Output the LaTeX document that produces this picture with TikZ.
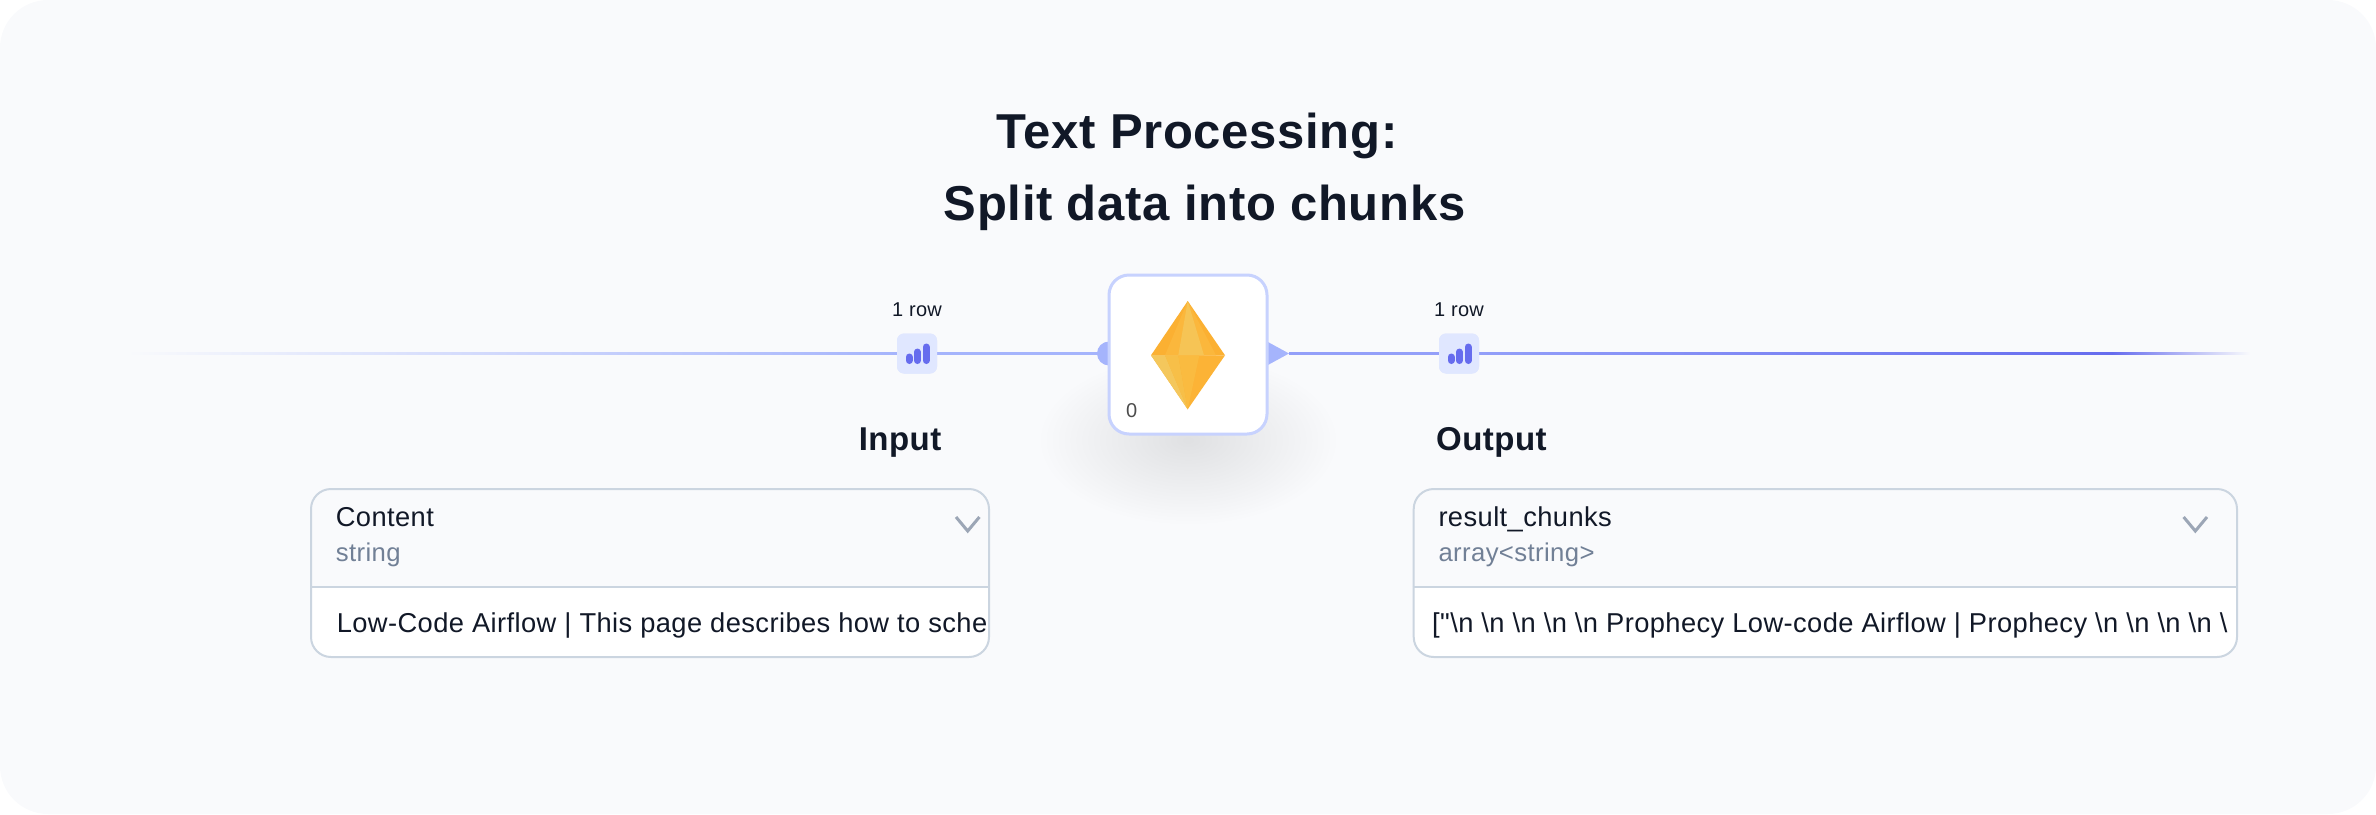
\documentclass[tikz,border=0pt]{standalone}
\usepackage{fontspec}
\setmainfont{Liberation Sans}
\newfontfamily\semifont[LetterSpace=1.4]{Liberation Sans}
\newfontfamily\bodyfont[LetterSpace=1.5]{Liberation Sans}
\usetikzlibrary{calc,fadings}
\definecolor{pagebg}{HTML}{F9FAFC}
\definecolor{inkdark}{HTML}{111827}
\definecolor{inkmute}{HTML}{718096}
\definecolor{wirelight}{HTML}{A5B4FC}
\definecolor{wiremid}{HTML}{939FF9}
\definecolor{wiredark}{HTML}{666CEE}
\definecolor{chipbg}{HTML}{E0E7FF}
\definecolor{gemline}{HTML}{C7D2FE}
\definecolor{fieldline}{HTML}{CBD5E0}
\newcommand{\bsn}{\textbackslash n}
\tikzfading[name=softglow,inner color=transparent!90,outer color=transparent!100]
\tikzset{
  tinytext/.style={inner sep=0pt,text=inkdark,font=\bodyfont\fontsize{20}{24}\selectfont},
  titletext/.style={inner sep=0pt,text=inkdark,anchor=base,font=\semifont\bfseries\fontsize{49}{56}\selectfont},
  sidetext/.style={inner sep=0pt,text=inkdark,anchor=base west,font=\semifont\bfseries\fontsize{33}{38}\selectfont},
  headtext/.style={inner sep=0pt,text=inkdark,anchor=base west,font=\bodyfont\fontsize{27.3}{30}\selectfont},
  typetext/.style={inner sep=0pt,text=inkmute,anchor=base west,font=\bodyfont\fontsize{25.7}{28}\selectfont},
  chipbox/.style={fill=chipbg,rounded corners=7pt,minimum width=40pt,minimum height=40pt,inner sep=0pt},
  gembox/.style={draw=gemline,line width=3pt,fill=white,rounded corners=20pt,minimum width=158pt,minimum height=159pt},
  fieldbox/.style={draw=fieldline,line width=2pt,rounded corners=20pt,inner sep=0pt},
  wire/.style={line width=3pt},
}
\begin{document}
\begin{tikzpicture}[x=1pt,y=-1pt]
\useasboundingbox (0,0) rectangle (2376,814);
\fill[pagebg,rounded corners=48pt] (0,0) rectangle (2376,814);
% title
\node[titletext] (titleA) at (1197,148) {Text Processing:};
\node[titletext] (titleB) at (1204.5,220) {Split data into chunks};
% soft shadow under the gem
\fill[black,path fading=softglow] (1188,440) ellipse[x radius=150,y radius=85];
% wires
\coordinate (fadeIn) at (126,353.5);
\coordinate (fadeTop) at (2112,353.5);
\coordinate (fadeOut) at (2250,353.5);
\coordinate (portIn) at (1109,353.5);
\coordinate (portTip) at (1289,353.5);
\node[chipbox] (chipA) at (917,353.5) {};
\node[chipbox] (chipB) at (1459,353.5) {};
\shade[left color=pagebg,right color=wirelight] ($(fadeIn)+(0,-1.2)$) rectangle ($(chipA.west)+(0,1.2)$);
\draw[wire,wirelight] (chipA) -- (portIn);
\draw[wire,wiremid] (portTip) -- (chipB);
\shade[left color=wiremid,right color=wiredark] ($(chipB.east)+(0,-1.2)$) rectangle ($(fadeTop)+(0,1.2)$);
\shade[left color=wiredark,right color=pagebg] ($(fadeTop)+(0,-1.2)$) rectangle ($(fadeOut)+(0,1.2)$);
% chips go over the wires
\foreach \nm/\x in {chipA/917,chipB/1459} {
  \node[chipbox] at (\nm) {};
  \begin{scope}[shift={(\nm.center)},line width=7pt,line cap=round,wiredark]
    \draw (-8,10.5-3.5) -- (-8,0+3.5);
    \draw (0.3,10.5-3.5) -- (0.3,-5+3.5);
    \draw (9,10.5-3.5) -- (9,-10+3.5);
  \end{scope}
  \node[tinytext,anchor=base] at (\x,316) {1 row};
}
% ports and gem node
\fill[wirelight] (portIn) circle[radius=12pt];
\fill[wirelight] (1267,341.5) -- (portTip) -- (1267,365.5) -- cycle;
\node[gembox] (gem) at (1188,354.5) {};
\node[tinytext,anchor=base west,text=black!70] (gemNr) at (1126,417) {0};
\coordinate (T) at (1187.7,301);
\coordinate (L) at (1151,355.3);
\coordinate (R) at (1225,355.3);
\coordinate (B) at (1187.7,409.3);
\foreach \a/\b/\c/\col in {
  T/L/R/FBB032,
  T/{1165,355.3}/{1216,355.3}/FBB73C,
  T/{1178.3,355.3}/{1204,355.3}/F6C455,
  B/L/R/FCB336,
  B/L/{1165,355.3}/F4C75C,
  B/{1165,355.3}/{1178.3,355.3}/F7BF48,
  B/{1178.3,355.3}/{1199.3,355.3}/FABB40} {
  \definecolor{facet}{HTML}{\col}
  \fill[facet] (\a) -- (\b) -- (\c) -- cycle;
}
% input and output fields
\foreach \nm/\lft/\rgt/\sx/\side/\hd/\tp/\bx/\bd/\cx in {
  in/311/989/858.6/Input/Content/string/336.6/{Low-Code Airflow | This page describes how to sche}/956,
  out/1413.7/2237/1436/Output/result\_chunks/{array<string>}/1432/{["\bsn{} \bsn{} \bsn{} \bsn{} \bsn{} Prophecy Low-code Airflow | Prophecy \bsn{} \bsn{} \bsn{} \bsn{} \textbackslash}/2183.6} {
  \begin{scope}
    \clip[rounded corners=20pt] (\lft,489) rectangle (\rgt,657);
    \fill[white] (\lft,587) rectangle (\rgt,657);
    \node[headtext] (\nm Text) at (\bx,632) {\bd};
  \end{scope}
  \node[fieldbox,minimum width=\rgt pt-\lft pt,minimum height=168pt] (\nm Box) at ({(\lft+\rgt)/2},573) {};
  \draw[fieldline,line width=2pt] (\nm Box.west|-0,587) -- (\nm Box.east|-0,587);
  \node[sidetext] (\nm Side) at (\sx,450) {\side};
  \node[headtext] (\nm Head) at ($(\nm Box.west|-0,526)+(25.6,0)$) {\hd};
  \node[typetext] (\nm Type) at ($(\nm Box.west|-0,561.7)+(25.6,0)$) {\tp};
  \draw[inkmute!70,line width=3pt] (\cx,517) -- (\cx+11.7,531) -- (\cx+23.4,517);
}
\end{tikzpicture}
\end{document}
